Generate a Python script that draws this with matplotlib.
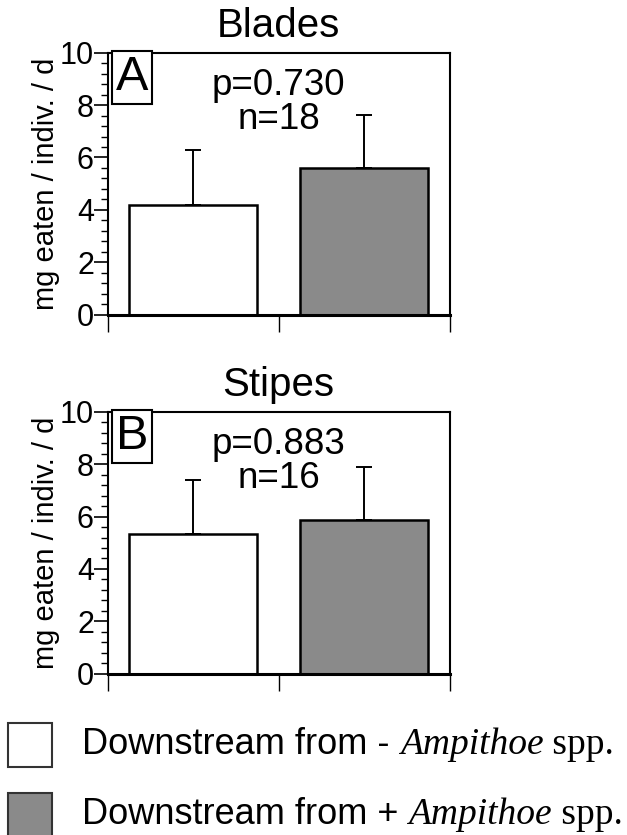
import matplotlib.pyplot as plt
from matplotlib.ticker import MultipleLocator
from matplotlib.patches import Rectangle

plt.rcParams['font.family'] = ['Liberation Sans', 'DejaVu Sans']

# data
treatments = ['Downstream from - Ampithoe spp.', 'Downstream from + Ampithoe spp.']
blades_mean = [4.2, 5.58]
blades_sd = [2.08, 2.04]
stipes_mean = [5.34, 5.87]
stipes_sd = [2.07, 2.02]
panels = ['Blades', 'Stipes']
letters = ['A', 'B']
p_vals = ['0.730', '0.883']
n_vals = [18, 16]
bar_colors = ['white', '#8a8a8a']

fig = plt.figure(figsize=(6.27, 8.35), dpi=100)
ax_a = fig.add_axes([0.172, 0.623, 0.545, 0.314])
ax_b = fig.add_axes([0.172, 0.193, 0.545, 0.314])

means = [blades_mean, stipes_mean]
sds = [blades_sd, stipes_sd]

for i, ax in enumerate([ax_a, ax_b]):
    x = [0.5, 1.5]
    ax.bar(x, means[i], width=0.75, color=bar_colors, edgecolor='black',
           linewidth=1.8, zorder=2)
    ax.errorbar(x, means[i], yerr=[[0, 0], sds[i]], fmt='none', ecolor='black',
                elinewidth=1.4, capsize=6, capthick=1.4, zorder=1)
    ax.set_xlim(0, 2)
    ax.set_ylim(0, 10)
    ax.set_xticks([0, 1, 2])
    ax.set_xticklabels([])
    ax.tick_params(axis='x', direction='out', length=12, width=1.0)
    ax.yaxis.set_major_locator(MultipleLocator(2))
    ax.yaxis.set_minor_locator(MultipleLocator(0.4))
    ax.tick_params(axis='y', which='major', direction='out', length=10, width=1.2,
                   labelsize=22, pad=0)
    ax.tick_params(axis='y', which='minor', direction='out', length=5, width=1.0)
    for s in ax.spines.values():
        s.set_linewidth(1.5)
    ax.spines['bottom'].set_linewidth(2.2)
    ax.set_ylabel('mg eaten / indiv. / d', fontsize=21, labelpad=0)
    ax.set_title(panels[i], fontsize=29, pad=11)
    ax.text(0.5, 0.81, f'p={p_vals[i]}\nn={n_vals[i]}', transform=ax.transAxes,
            ha='center', va='center', fontsize=26.5, linespacing=0.95)
    ax.text(0.07, 0.905, letters[i], transform=ax.transAxes, ha='center',
            va='center', fontsize=35,
            bbox=dict(boxstyle='square,pad=0.08', facecolor='white',
                      edgecolor='black', linewidth=1.5))

# legend drawn as boxes plus mixed-font text
leg_y = [0.108, 0.024]
for j in range(2):
    fig.patches.append(Rectangle((0.013, leg_y[j] - 0.026), 0.07, 0.052,
                                 transform=fig.transFigure, facecolor=bar_colors[j],
                                 edgecolor='#333333', linewidth=1.5))
    sign = '-' if j == 0 else '+'
    t1 = fig.text(0.131, leg_y[j], f'Downstream from {sign} ', fontsize=26,
                  va='center', ha='left')
    fig.canvas.draw()
    bb = t1.get_window_extent()
    x2 = bb.x1 / fig.bbox.width
    t2 = fig.text(x2, leg_y[j], 'Ampithoe', fontsize=27, va='center', ha='left',
                  family='Liberation Serif', style='italic')
    fig.canvas.draw()
    x3 = t2.get_window_extent().x1 / fig.bbox.width
    fig.text(x3, leg_y[j], ' spp.', fontsize=27, va='center', ha='left',
             family='Liberation Serif')

fig.savefig('out.png', dpi=100)
